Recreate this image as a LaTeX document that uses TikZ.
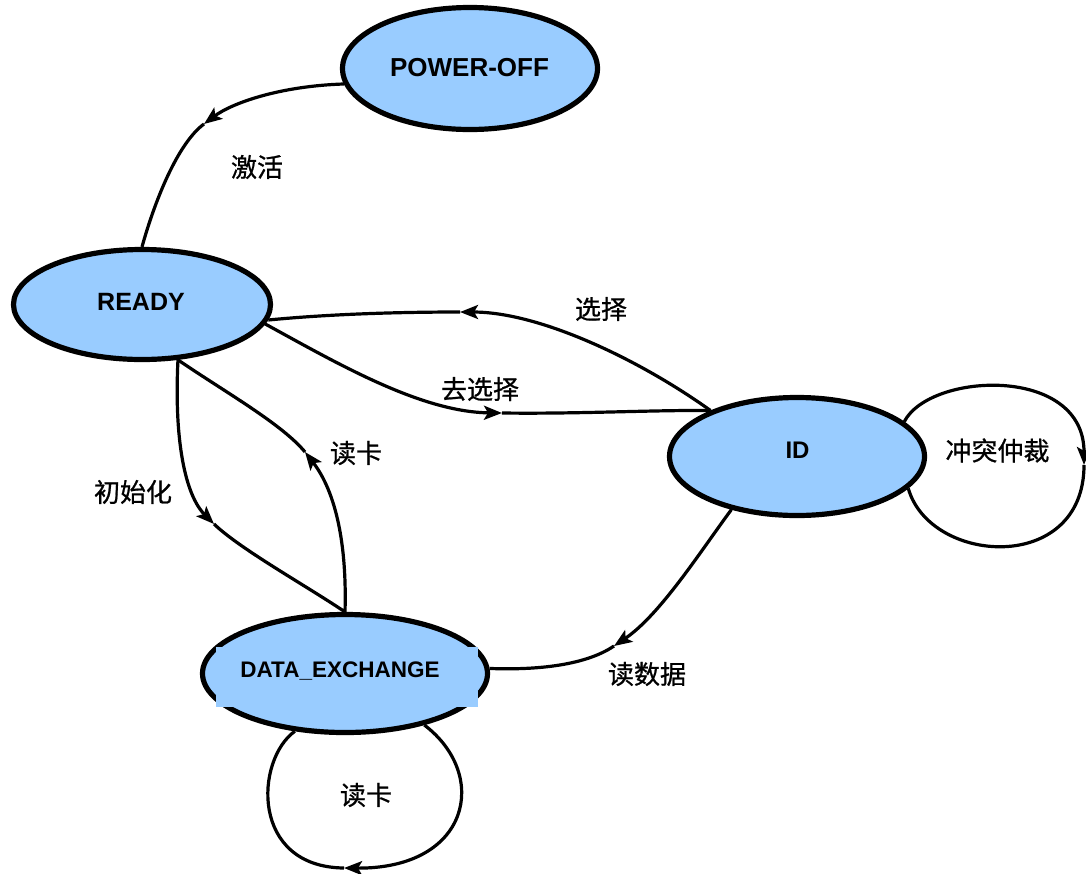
\documentclass[tikz,border=0pt]{standalone}
\usepackage{fontspec}
\setmainfont{Liberation Sans}
\newfontfamily\cjk[FakeBold=0.8]{Noto Sans CJK SC}
\usetikzlibrary{shapes.geometric,arrows.meta}
\definecolor{statefill}{HTML}{99CCFF}
\tikzset{
  state/.style={ellipse, draw=black, line width=5.2pt, fill=statefill, inner sep=0pt},
  statename/.style={inner sep=0pt, text depth=0pt, font=\bfseries\fontsize{#1}{#1}\selectfont},
  edgelabel/.style={inner sep=0pt, font=\cjk\fontsize{26}{26}\selectfont},
  conn/.style={draw=black, line width=3.2pt},
  arrowend/.style={-{Stealth[length=18pt,width=14pt,inset=4pt]}}
}
\begin{document}
\begin{tikzpicture}[x=1pt,y=-1pt]
\fill[white] (0,0) rectangle (1086,873);
\useasboundingbox (0,0) rectangle (1086,873);

% states
\node[state, minimum width=255pt, minimum height=122pt] (poweroff) at (470,68.5) {};
\node[state, minimum width=257pt, minimum height=110pt] (ready) at (142,304.5) {};
\node[state, minimum width=255pt, minimum height=118pt] (id) at (797,456.5) {};
\node[state, minimum width=285pt, minimum height=118pt] (dx) at (345,673.5) {};
\fill[statefill] (216,647) rectangle (478,707);

\node[statename=26] (poweroffname) at (469.5,67.5) {POWER-OFF};
\node[statename=25] (readyname) at (141,302) {READY};
\node[statename=24] (idname) at (797.5,450) {ID};
\node[statename=22.5] (dxname) at (340,670) {DATA\_EXCHANGE};

% bend points where the arrowheads sit
\coordinate (actbend) at (204,124);
\coordinate (selbend) at (460,312);
\coordinate (desbend) at (502,413);
\coordinate (initbend) at (214,524);
\coordinate (readbend) at (305,452);
\coordinate (databend) at (614,646);
\coordinate (arbbend) at (1084,465);
\coordinate (cardbend) at (344,868);

% POWER-OFF -> READY
\draw[conn,arrowend] (poweroff.187) .. controls (280,86) and (232,103) .. (actbend);
\draw[conn] (actbend) .. controls (178,143) and (155,200) .. (ready.north);

% ID -> READY
\draw[conn,arrowend] (id.152) .. controls (640,360) and (540,312) .. (selbend);
\draw[conn] (selbend) .. controls (400,312) and (330,314) .. (ready.-7);

% READY -> ID
\draw[conn,arrowend] (ready.-9) .. controls (335,362) and (420,412) .. (desbend);
\draw[conn] (desbend) .. controls (580,414) and (650,410) .. (id.152);

% READY -> DATA_EXCHANGE
\draw[conn,arrowend] (ready.-57) .. controls (174,440) and (185,495) .. (initbend);
\draw[conn] (initbend) .. controls (240,549) and (305,585) .. (dx.north);

% DATA_EXCHANGE -> READY
\draw[conn,arrowend] (dx.north) .. controls (347,545) and (336,492) .. (readbend);
\draw[conn] (readbend) .. controls (282,424) and (225,392) .. (ready.-57);

% ID -> DATA_EXCHANGE
\draw[conn,arrowend] (id.219) .. controls (700,552) and (660,615) .. (databend);
\draw[conn] (databend) .. controls (583,667) and (530,670) .. (dx.2);

% ID self loop
\draw[conn,arrowend] (id.18) .. controls (930,372) and (1084,365) .. (arbbend);
\draw[conn] (arbbend) .. controls (1084,575) and (930,565) .. (id.-16);

% DATA_EXCHANGE self loop
\draw[conn,arrowend] (dx.-33) .. controls (490,775) and (470,869) .. (cardbend);
\draw[conn] (cardbend) .. controls (250,867) and (255,760) .. (dx.229);

% transition labels
\node[edgelabel] (lblact) at (257,167) {激活};
\node[edgelabel] (lblsel) at (601,309) {选择};
\node[edgelabel] (lbldes) at (480,389) {去选择};
\node[edgelabel] (lblarb) at (997.5,450.5) {冲突仲裁};
\node[edgelabel] (lblread) at (356,453) {读卡};
\node[edgelabel] (lblinit) at (133,492) {初始化};
\node[edgelabel] (lbldata) at (647,674) {读数据};
\node[edgelabel] (lblcard) at (366,795) {读卡};
\end{tikzpicture}
\end{document}
